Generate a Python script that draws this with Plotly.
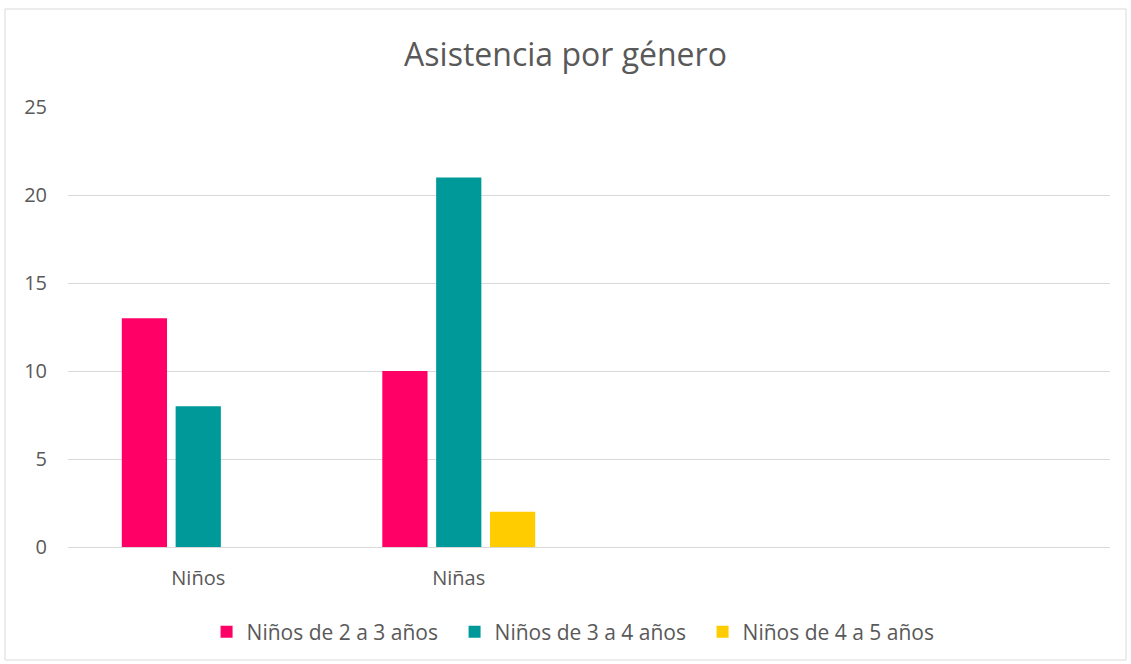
import plotly.graph_objects as go

categories = ["Niños", "Niñas"]
series_names = ["Niños de 2 a 3 años", "Niños de 3 a 4 años", "Niños de 4 a 5 años"]
values_2_3 = [13, 10]
values_3_4 = [8, 21]
values_4_5 = [0, 2]
y_ticks = [0, 5, 10, 15, 20, 25]
colors = ["#FF0066", "#009999", "#FFCC00"]

W, H = 1131, 664
L, R, T, B = 68, 1110, 107, 547

fig = go.Figure()
for name, vals, col in zip(series_names, [values_2_3, values_3_4, values_4_5], colors):
    fig.add_trace(go.Bar(x=categories, y=vals, name=name, marker=dict(color=col, line=dict(width=0))))

pw, ph = R - L, B - T
fig.update_layout(
    width=W, height=H,
    margin=dict(l=L, r=W - R, t=T, b=H - B),
    paper_bgcolor="white", plot_bgcolor="white",
    barmode="group", bargap=0.38, bargroupgap=0.16,
    font=dict(family="Open Sans", color="#595959", size=20),
    title=dict(text="Asistencia por género", x=0.5, xanchor="center", y=1 - 55 / H, yanchor="middle",
               font=dict(size=32, color="#595959")),
    xaxis=dict(type="category", range=[-0.5, 3.5], showgrid=False, zeroline=False, showline=False,
               ticks="", ticklabelstandoff=17, tickfont=dict(size=20)),
    yaxis=dict(range=[0, 25], tickvals=y_ticks, showgrid=True, gridcolor="#D9D9D9", gridwidth=1,
               zeroline=True, zerolinecolor="#D9D9D9", zerolinewidth=1, showline=False, ticks="",
               ticklabelstandoff=20, tickfont=dict(size=20)),
    legend=dict(orientation="h", x=0.49, xanchor="center", y=(B - 632) / ph, yanchor="middle",
                font=dict(size=21), traceorder="normal", itemwidth=30, entrywidth=203),
    showlegend=True,
)
fig.add_shape(type="rect", xref="paper", yref="paper",
              x0=(5 - L) / pw, x1=(1126 - L) / pw, y0=(B - 660) / ph, y1=(B - 9) / ph,
              line=dict(color="#D9D9D9", width=1), fillcolor="rgba(0,0,0,0)", layer="below")
fig.write_html("out.html", config={"displayModeBar": False},
               post_script="document.body.style.margin='0';")
